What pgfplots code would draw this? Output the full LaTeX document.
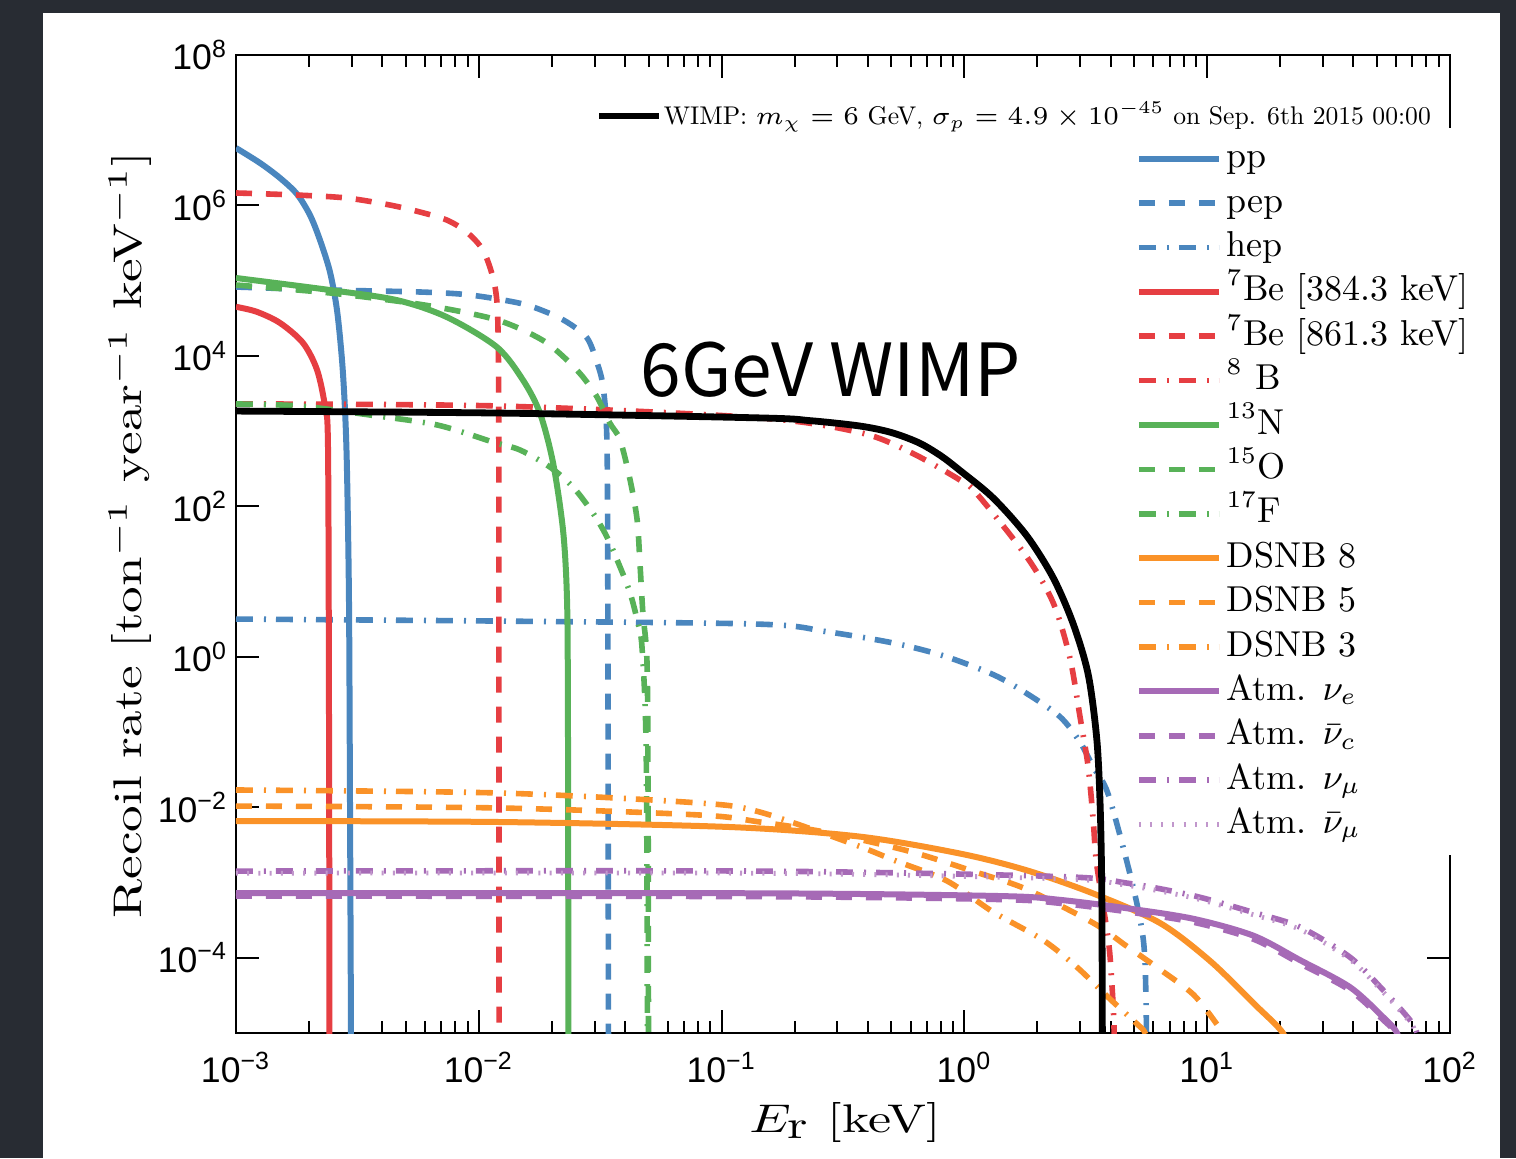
\RequirePackage{fix-cm}
\documentclass[border=0pt]{standalone}
\usepackage{fontspec}
\setmainfont{lmroman10-regular.otf}[ItalicFont=lmroman10-italic.otf, BoldFont=lmroman10-bold.otf, BoldItalicFont=lmroman10-bolditalic.otf]
\usepackage{graphicx}
\usepackage{pgfplots}
\pgfplotsset{compat=1.18}
\newfontfamily\tickfont{Liberation Sans}
\newfontfamily\annfont{Noto Sans CJK JP}
\definecolor{bgdark}{RGB}{40,44,51}
\definecolor{cblue}{RGB}{74,134,190}
\definecolor{cred}{RGB}{230,62,66}
\definecolor{cgreen}{RGB}{88,178,88}
\definecolor{corange}{RGB}{250,146,40}
\definecolor{cpurple}{RGB}{166,106,182}
\tikzset{
  dS/.style={dash pattern=on 4pt off 3.5pt},
  ddS/.style={dash pattern=on 4.2pt off 2.8pt on 0.5pt off 2.5pt},
  dotS/.style={dash pattern=on 0.5pt off 2.3pt},
}
\begin{document}
\begin{tikzpicture}
\useasboundingbox (0pt,0pt) rectangle (379pt,289.5pt);
\fill[bgdark] (0pt,0pt) rectangle (379pt,289.5pt);
\fill[white] (10.75pt,0pt) rectangle (375pt,286.25pt);
\begin{axis}[
  at={(59pt,31.25pt)}, anchor=south west, scale only axis,
  width=303.5pt, height=244.5pt,
  xmode=log, ymode=log,
  xmin=1e-3, xmax=1e2, ymin=1e-5, ymax=1e8,
  axis line style={line width=0.6pt},
  tick style={black, line width=0.5pt},
  tick align=inside,
  major tick length=5.8pt, minor tick length=3pt,
  xtick={1e-3,1e-2,1e-1,1,10,100},
  xticklabels={10\textsuperscript{−3},10\textsuperscript{−2},10\textsuperscript{−1},10\textsuperscript{0},10\textsuperscript{1},10\textsuperscript{2}},
  minor xtick={2e-3,3e-3,4e-3,5e-3,6e-3,7e-3,8e-3,9e-3,2e-2,3e-2,4e-2,5e-2,6e-2,7e-2,8e-2,9e-2,0.2,0.3,0.4,0.5,0.6,0.7,0.8,0.9,2,3,4,5,6,7,8,9,20,30,40,50,60,70,80,90},
  ytick={1e-4,1e-2,1,1e2,1e4,1e6,1e8},
  yticklabels={10\textsuperscript{−4},10\textsuperscript{−2},10\textsuperscript{0},10\textsuperscript{2},10\textsuperscript{4},10\textsuperscript{6},10\textsuperscript{8}},
  yminorticks=false,
  tick label style={font=\tickfont\fontsize{8.9pt}{10pt}\selectfont},
  xticklabel style={yshift=-1.3pt},
  yticklabel style={xshift=1.5pt},
  xlabel={\scalebox{1.3}[1]{$E_{\textstyle\mathrm{r}}$ [keV]}},
  ylabel={\scalebox{1.33}[1]{Recoil rate [ton$^{-1}$ year$^{-1}$ keV$^{-1}$]}},
  xlabel style={font=\fontsize{14pt}{16pt}\selectfont},
  ylabel style={font=\fontsize{15.5pt}{18pt}\selectfont},
  every axis x label/.style={at={(axis description cs:0.5016,-0.091)}, anchor=center},
  every axis y label/.style={at={(axis description cs:-0.0873,0.509)}, rotate=90, anchor=center},
  legend style={at={(0.7339,0.9264)}, anchor=north west, draw=none, fill=white,
    inner xsep=2pt, inner ysep=3pt, row sep=1.7pt, column sep=1.2pt,
    font=\fontsize{9.0pt}{11pt}\selectfont,
    nodes={inner sep=0pt, text height=7pt, text depth=2.4pt}},
  legend cell align=left,
  legend image code/.code={\draw[#1] (0pt,0pt) -- (20pt,0pt);},
  every axis plot/.append style={smooth, tension=0.5},
]
% pp
\addplot[cblue, line width=1.5pt] table {
x y
1e-3 5.81e6
1.256e-3 3.67e6
1.518e-3 2.32e6
1.783e-3 1.42e6
2.017e-3 7.46e5
2.218e-3 3.47e5
2.438e-3 1.31e5
2.606e-3 4.08e4
2.733e-3 8.83e3
2.812e-3 1.91e3
2.865e-3 305
2.92e-3 5.7
2.948e-3 1.26e-2
2.976e-3 1e-5
2.99e-3 1e-7
};
\addlegendentry{pp}
% pep
\addplot[cblue, line width=1.4pt, dS] table {
x y
1e-3 8.24e4
2.44e-3 7.52e4
5.73e-3 7.08e4
9.2e-3 6.46e4
1.479e-2 5.01e4
1.91e-2 3.80e4
2.307e-2 2.82e4
2.79e-2 1.74e4
3.07e-2 8.13e3
3.25e-2 3.89e3
3.37e-2 759
3.40e-2 5.75
3.42e-2 1e-5
3.43e-2 1e-7
};
\addlegendentry{pep}
% hep
\addplot[cblue, line width=1.4pt, ddS] table {
x y
1e-3 3.18
1.222e-2 2.99
0.1439 2.72
0.271 2.16
0.509 1.53
0.818 1.036
1.315 0.581
1.806 0.326
2.476 0.16
2.993 7.38e-2
3.396 3.41e-2
3.915 1.48e-2
4.887 1.05e-3
5.457 1.73e-4
5.60 2.5e-5
5.65 1e-6
};
\addlegendentry{hep}
% 7Be 384
\addplot[cred, line width=1.5pt] table {
x y
1e-3 4.5e4
1.216e-3 3.87e4
1.517e-3 2.75e4
1.888e-3 1.49e4
2.158e-3 6.5e3
2.328e-3 2.09e3
2.393e-3 617
2.415e-3 0.27
2.427e-3 1e-5
2.43e-3 1e-7
};
\addlegendentry{$^{7}$Be [384.3 keV]}
% 7Be 861
\addplot[cred, line width=1.4pt, dS] table {
x y
1e-3 1.466e6
1.778e-3 1.377e6
2.858e-3 1.256e6
4.305e-3 1.014e6
5.73e-3 8.18e5
7.38e-3 6.41e5
8.91e-3 4.44e5
1.04e-2 2.56e5
1.143e-2 1.12e5
1.186e-2 5.53e4
1.2e-2 2.21e4
1.208e-2 2.57e3
1.21e-2 5.7
1.212e-2 1e-5
1.215e-2 1e-7
};
\addlegendentry{$^{7}$Be [861.3 keV]}
% 8B
\addplot[cred, line width=1.4pt, ddS] table {
x y
1e-3 2.30e3
1.222e-2 2.16e3
0.1439 1.5e3
0.3715 957
0.597 528
0.959 224
1.124 148
1.806 21.4
2.323 5.2
2.72 0.97
2.993 0.16
3.236 3.41e-2
3.396 6.4e-3
3.506 1.76e-3
3.915 1.73e-4
4.044 4.77e-5
4.133 1.16e-5
4.16 1e-6
};
\addlegendentry{$^{8}$ B}
% 13N
\addplot[cgreen, line width=1.5pt] table {
x y
1e-3 1.087e5
2.438e-3 7.52e4
4.59e-3 5.53e4
7.38e-3 3.29e4
1.186e-2 1.315e4
1.52e-2 4.79e3
1.786e-2 1.74e3
2.023e-2 378
2.223e-2 48.5
2.307e-2 6.24
2.328e-2 0.267
2.34e-2 1e-5
2.345e-2 1e-7
};
\addlegendentry{$^{13}$N}
% 15O
\addplot[cgreen, line width=1.4pt, dS] table {
x y
1e-3 8.77e4
2.44e-3 6.87e4
5.36e-3 5.01e4
8.61e-3 3.84e4
1.189e-2 3.01e4
1.52e-2 2.21e4
1.91e-2 1.486e4
2.307e-2 8.83e3
2.685e-2 5.25e3
3.07e-2 2.84e3
3.467e-2 1.28e3
3.82e-2 764
4.20e-2 224
4.49e-2 65.9
4.61e-2 17.7
4.74e-2 3.83
4.93e-2 0.828
4.98e-2 1.26e-2
5.0e-2 1e-5
5.02e-2 1e-7
};
\addlegendentry{$^{15}$O}
% 17F
\addplot[cgreen, line width=1.4pt, ddS] table {
x y
1e-3 2.30e3
1.837e-3 2.16e3
3.565e-3 1.64e3
6.73e-3 1.21e3
1.143e-2 718
1.479e-2 562
1.963e-2 334
2.443e-2 181
2.951e-2 81.7
3.373e-2 39.2
3.82e-2 15.6
4.20e-2 7.06
4.49e-2 3.09
4.70e-2 1.35
4.89e-2 5.78e-2
4.95e-2 1e-5
4.97e-2 1e-7
};
\addlegendentry{$^{17}$F}
% DSNB 8
\addplot[corange, line width=1.5pt] table {
x y
1e-3 6.58e-3
1.222e-2 6.38e-3
0.1084 5.47e-3
0.3715 4.08e-3
0.959 2.43e-3
1.806 1.455e-3
3.396 7.15e-4
6.39 2.90e-4
10.27 9.1e-5
15.49 2.5e-5
20.5 1e-5
21.5 5e-6
};
\addlegendentry{DSNB 8}
% DSNB 5
\addplot[corange, line width=1.4pt, dS] table {
x y
1e-3 1.04e-2
1.222e-2 9.8e-3
8.15e-2 7.9e-3
0.1439 6.38e-3
0.271 4.64e-3
0.597 2.59e-3
1.124 1.364e-3
1.806 8.13e-4
3.396 2.90e-4
4.656 1.43e-4
6.39 7.0e-5
8.77 3.25e-5
10.94 1.32e-5
11.5 1e-5
12.2 5e-6
};
\addlegendentry{DSNB 5}
% DSNB 3
\addplot[corange, line width=1.4pt, ddS] table {
x y
1e-3 1.70e-2
1.222e-2 1.55e-2
8.15e-2 1.14e-2
0.1439 8.65e-3
0.3475 3.26e-3
0.509 2.0e-3
0.848 1.05e-3
1.312 4.07e-4
2.108 1.72e-4
2.909 7.5e-5
3.98 2.83e-5
5.14 1.32e-5
5.55 1e-5
5.9 5e-6
};
\addlegendentry{DSNB 3}
% Atm nu_e
\addplot[cpurple, line width=1.5pt] table {
x y
1e-3 7.26e-4
0.1439 7.2e-4
1.40 6.62e-4
2.476 5.89e-4
4.656 4.56e-4
8.77 3.30e-4
15.49 1.97e-4
24.1 9.33e-5
38.7 4.08e-5
53.0 1.63e-5
60.5 1e-5
63 5e-6
};
\addlegendentry{Atm. $\nu_e$}
% Atm nubar_e
\addplot[cpurple, line width=1.4pt, dS] table {
x y
1e-3 6.6e-4
0.1439 6.5e-4
1.40 5.95e-4
2.476 5.3e-4
4.656 4.1e-4
8.77 2.97e-4
15.49 1.77e-4
24.1 8.4e-5
38.7 3.7e-5
53.0 1.5e-5
59.5 1e-5
62 5e-6
};
\addlegendentry{Atm. $\bar{\nu}_c$}
% Atm nu_mu
\addplot[cpurple, line width=1.4pt, ddS] table {
x y
1e-3 1.42e-3
0.1439 1.42e-3
2.476 1.2e-3
4.656 9.86e-4
8.77 6.7e-4
15.49 4.01e-4
24.1 2.56e-4
38.7 1.02e-4
53.0 3.73e-5
68.4 1.49e-5
73.1 1e-5
76 5e-6
};
\addlegendentry{Atm. $\nu_\mu$}
% Atm nubar_mu
\addplot[cpurple!70, line width=1.2pt, dotS] table {
x y
1e-3 1.33e-3
0.1439 1.33e-3
2.476 1.12e-3
4.656 9.2e-4
8.77 6.25e-4
15.49 3.73e-4
24.1 2.38e-4
38.7 9.5e-5
53.0 3.5e-5
68.4 1.4e-5
72 1e-5
75 5e-6
};
\addlegendentry{Atm. $\bar{\nu}_\mu$}
\end{axis}
\begin{axis}[
  at={(59pt,31.25pt)}, anchor=south west, scale only axis,
  width=303.5pt, height=244.5pt,
  xmode=log, ymode=log,
  xmin=1e-3, xmax=1e2, ymin=1e-5, ymax=1e8,
  hide axis,
  legend style={at={(0.2957,0.9376)}, anchor=west, draw=none, fill=none,
    inner sep=0pt, column sep=0.3pt,
    font=\fontsize{6.4pt}{8pt}\selectfont, nodes={inner sep=0pt}},
  legend image code/.code={\draw[#1] (0pt,0pt) -- (15pt,0pt);},
]
\addplot[black, line width=1.7pt, smooth, tension=0.5] table {
x y
1e-3 1.85e3
1.222e-2 1.74e3
0.1439 1.50e3
0.2312 1.38e3
0.3715 1.17e3
0.50 960
0.65 700
0.80 470
0.959 300
1.312 130
1.806 40.7
2.323 11.2
2.809 2.72
3.236 0.581
3.506 8.4e-2
3.618 1.22e-2
3.678 9.3e-4
3.70 1e-5
3.71 1e-7
};
\addlegendentry{WIMP: $m_\chi = 6$ GeV, $\sigma_p = 4.9 \times 10^{-45}$ on Sep. 6th 2015 00:00}
\end{axis}
\node[anchor=base, inner sep=0pt] at (207.75pt,190.25pt) {\annfont\fontsize{18.3pt}{20pt}\selectfont 6GeV WIMP};
\end{tikzpicture}
\end{document}
